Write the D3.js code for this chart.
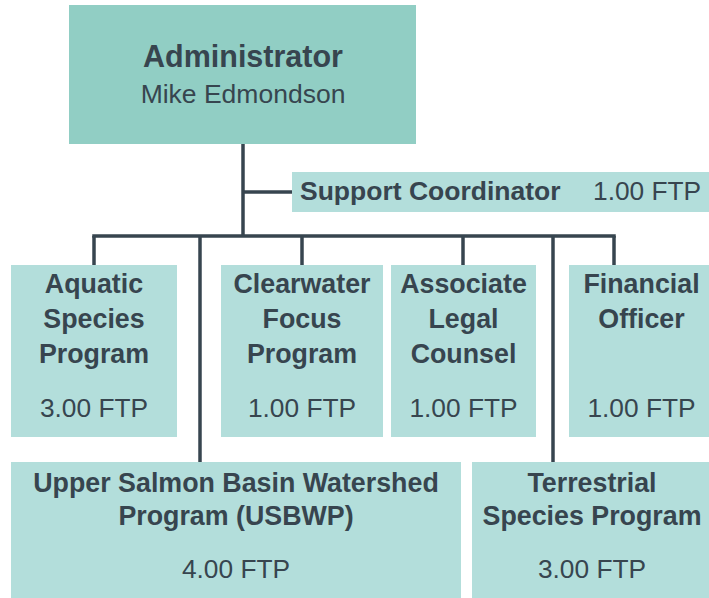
<!DOCTYPE html>
<html>
<head>
<meta charset="utf-8">
<script src="https://cdn.jsdelivr.net/npm/d3@7"></script>
<style>
  body { margin: 0; background: #fff; }
  svg { display: block; font-family: "Liberation Sans", Arial, sans-serif; }
</style>
</head>
<body>
<svg id="chart" width="709" height="598"></svg>
<script>
/* ---- chart data ---- */
const unitIds    = ["admin", "support", "aquatic", "clearwater", "legal", "finance", "usbwp", "terrestrial"];
const unitTitles = [
    ["Administrator"],
    ["Support Coordinator"],
    ["Aquatic", "Species", "Program"],
    ["Clearwater", "Focus", "Program"],
    ["Associate", "Legal", "Counsel"],
    ["Financial", "Officer"],
    ["Upper Salmon Basin Watershed", "Program (USBWP)"],
    ["Terrestrial", "Species Program"]
];
const unitHeads  = ["Mike Edmondson", null, null, null, null, null, null, null];
const unitFtp    = [null, "1.00 FTP", "3.00 FTP", "1.00 FTP", "1.00 FTP", "1.00 FTP", "4.00 FTP", "3.00 FTP"];
const reportsTo  = [null, "admin", "admin", "admin", "admin", "admin", "admin", "admin"];

/* ---- layout (pixel boxes, kept apart from data) ---- */
const layout = {
    admin:       { x: 69,  y: 5,   w: 347, h: 139, fill: "#91cec4" },
    support:     { x: 292, y: 172, w: 420, h: 40,  inline: true },
    aquatic:     { x: 11,  y: 265, w: 166, h: 172, drop: 94 },
    clearwater:  { x: 221, y: 265, w: 162, h: 172, drop: 302 },
    legal:       { x: 391, y: 265, w: 145, h: 172, drop: 463 },
    finance:     { x: 569, y: 265, w: 145, h: 172, drop: 614 },
    usbwp:       { x: 11,  y: 462, w: 450, h: 140, drop: 200 },
    terrestrial: { x: 472, y: 462, w: 240, h: 140, drop: 553 }
};

const units = unitIds.map((id, i) => ({
    id, title: unitTitles[i], head: unitHeads[i], ftp: unitFtp[i], parent: reportsTo[i], box: layout[id]
}));

const ink = "#37454f";
const boxFill = "#b3dedb";

const svg = d3.select("#chart");

/* ---- connectors ---- */
const admin = layout.admin;
const trunkX = 243, busY = 236, supportY = 192;
const children = units.filter(u => u.parent && !u.box.inline);
const busLeft = d3.min(children, u => u.box.drop);
const busRight = d3.max(children, u => u.box.drop);

const lines = svg.append("g")
    .attr("stroke", ink)
    .attr("stroke-width", 3.5)
    .attr("fill", "none");

lines.append("line")
    .attr("x1", trunkX).attr("y1", admin.y + admin.h)
    .attr("x2", trunkX).attr("y2", busY);

lines.append("line")
    .attr("x1", trunkX).attr("y1", supportY)
    .attr("x2", layout.support.x).attr("y2", supportY);

lines.append("path")
    .attr("d", `M${busLeft},${busY + 1.75}V${busY}H${busRight}V${busY + 1.75}`)
    .attr("stroke-linejoin", "miter");

lines.selectAll(".drop")
    .data(children)
    .join("line")
    .attr("class", "drop")
    .attr("x1", d => d.box.drop).attr("y1", busY)
    .attr("x2", d => d.box.drop).attr("y2", d => d.box.y);

/* ---- boxes ---- */
const node = svg.selectAll(".unit")
    .data(units)
    .join("g")
    .attr("class", "unit");

node.append("rect")
    .attr("x", d => d.box.x)
    .attr("y", d => d.box.y)
    .attr("width", d => d.box.w)
    .attr("height", d => d.box.h)
    .attr("fill", d => d.box.fill || boxFill);

/* administrator */
const adminNode = node.filter(d => d.id === "admin");
adminNode.append("text")
    .attr("x", 243).attr("y", 67)
    .attr("text-anchor", "middle")
    .attr("font-weight", "bold")
    .attr("font-size", 30.5)
    .attr("fill", ink)
    .text(d => d.title[0]);
adminNode.append("text")
    .attr("x", 243).attr("y", 103)
    .attr("text-anchor", "middle")
    .attr("font-size", 26.5)
    .attr("fill", ink)
    .text(d => d.head);

/* support coordinator (single line) */
const supportNode = node.filter(d => d.box.inline);
supportNode.append("text")
    .attr("x", 300).attr("y", 200)
    .attr("font-weight", "bold")
    .attr("font-size", 26.5)
    .attr("fill", ink)
    .text(d => d.title[0]);
supportNode.append("text")
    .attr("x", 593).attr("y", 200)
    .attr("font-size", 26.3)
    .attr("fill", ink)
    .text(d => d.ftp);

/* program boxes */
const progNode = node.filter(d => d.parent && !d.box.inline);
const rowSpec = d => d.box.y < 400
    ? { first: 28, step: 35, ftp: 152 }
    : { first: 30, step: 33, ftp: 116 };

progNode.each(function (d) {
    const g = d3.select(this);
    const spec = rowSpec(d);
    const cx = d.box.x + d.box.w / 2;
    g.selectAll(".title")
        .data(d.title)
        .join("text")
        .attr("class", "title")
        .attr("x", cx)
        .attr("y", (t, i) => d.box.y + spec.first + i * spec.step)
        .attr("text-anchor", "middle")
        .attr("font-weight", "bold")
        .attr("font-size", 26.8)
        .attr("fill", ink)
        .text(t => t);
    g.append("text")
        .attr("x", cx)
        .attr("y", d.box.y + spec.ftp)
        .attr("text-anchor", "middle")
        .attr("font-size", 26.3)
        .attr("fill", ink)
        .text(d.ftp);
});
</script>
</body>
</html>
